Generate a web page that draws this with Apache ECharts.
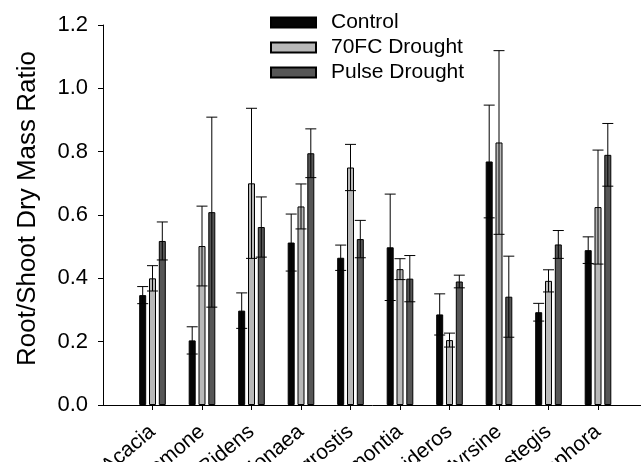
<!DOCTYPE html>
<html>
<head>
<meta charset="utf-8">
<script src="https://cdn.jsdelivr.net/npm/echarts@6/dist/echarts.min.js"></script>
<style>
html,body{margin:0;padding:0;background:#fff;}
#chart{width:641px;height:462px;}
</style>
</head>
<body>
<div id="chart"></div>
<script>
var categories = ['Acacia','Argemone','Bidens','Dodonaea','Eragrostis','Jacquemontia','Metrosideros','Myrsine','Nestegis','Sophora'];
var seriesNames = ['Control','70FC Drought','Pulse Drought'];
var controlMean = [0.347,0.204,0.298,0.513,0.465,0.498,0.286,0.769,0.293,0.489];
var controlSE   = [0.027,0.043,0.056,0.090,0.040,0.168,0.065,0.178,0.028,0.042];
var fcMean      = [0.400,0.502,0.700,0.627,0.750,0.429,0.205,0.829,0.392,0.625];
var fcSE        = [0.040,0.126,0.237,0.071,0.073,0.033,0.022,0.290,0.035,0.180];
var pulseMean   = [0.518,0.609,0.562,0.795,0.524,0.399,0.390,0.342,0.507,0.790];
var pulseSE     = [0.060,0.300,0.095,0.077,0.059,0.073,0.020,0.128,0.044,0.099];
var yTicks = [0,0.2,0.4,0.6,0.8,1.0,1.2];

var means = [controlMean, fcMean, pulseMean];
var ses = [controlSE, fcSE, pulseSE];
var fills = ['#050505','#b8b8b8','#565656'];
var offsets = [-9.8, 0, 9.8];
var font = '"Liberation Sans", Arial, sans-serif';

var axisData = [''].concat(categories).concat(['']);

var series = [];
for (var s = 0; s < 3; s++) {
  series.push({
    name: seriesNames[s],
    type: 'bar',
    barWidth: 7,
    barGap: '40%',
    itemStyle: {color: fills[s], borderColor: '#000', borderWidth: 1},
    data: means[s].map(function(v, i){ return [i + 1, v]; }),
    z: 2
  });
}
for (var s2 = 0; s2 < 3; s2++) {
  (function(k){
    series.push({
      type: 'custom',
      name: seriesNames[k] + ' SE',
      z: 5,
      silent: true,
      renderItem: function(params, api) {
        var x = api.value(0), m = api.value(1), e = api.value(2);
        var top = api.coord([x, m + e]);
        var bot = api.coord([x, m - e]);
        var cx = top[0] + offsets[k];
        var st = {stroke: '#000', lineWidth: 1};
        return {type: 'group', children: [
          {type: 'line', shape: {x1: cx, y1: top[1], x2: cx, y2: bot[1]}, style: st},
          {type: 'line', shape: {x1: cx - 5.5, y1: top[1], x2: cx + 5.5, y2: top[1]}, style: st},
          {type: 'line', shape: {x1: cx - 5.5, y1: bot[1], x2: cx + 5.5, y2: bot[1]}, style: st}
        ]};
      },
      data: means[k].map(function(v, i){ return [i + 1, v, ses[k][i]]; })
    });
  })(s2);
}

var chart = echarts.init(document.getElementById('chart'), null, {renderer: 'canvas'});
chart.setOption({
  animation: false,
  backgroundColor: '#fff',
  textStyle: {fontFamily: font},
  legend: {
    data: seriesNames,
    orient: 'vertical',
    left: 270,
    top: 12,
    padding: 0,
    itemWidth: 45,
    itemHeight: 10,
    itemGap: 4,
    icon: 'rect',
    selectedMode: false,
    textStyle: {fontSize: 21, fontFamily: font, color: '#000', lineHeight: 21, padding: [0,0,0,10]}
  },
  grid: {left: 103, top: 25, bottom: 57, right: -6.5, containLabel: false, outerBoundsMode: 'none'},
  xAxis: {
    type: 'category',
    data: axisData,
    boundaryGap: false,
    axisLine: {lineStyle: {color: '#000', width: 1}},
    axisTick: {show: true, length: 5, lineStyle: {color: '#000'}, interval: function(i){ return i > 0 && i < axisData.length - 1; }},
    axisLabel: {rotate: 40, interval: 0, margin: 24, fontSize: 21, color: '#000', fontFamily: font},
    splitLine: {show: false}
  },
  yAxis: {
    type: 'value',
    min: 0,
    max: 1.2,
    interval: 0.2,
    name: 'Root/Shoot Dry Mass Ratio',
    nameLocation: 'middle',
    nameGap: 62,
    nameTextStyle: {fontSize: 26, color: '#000', fontFamily: font, padding: [0,0,0,13]},
    axisLine: {show: true, lineStyle: {color: '#000', width: 1}},
    axisTick: {show: true, inside: false, length: 5, lineStyle: {color: '#000'}},
    axisLabel: {margin: 15, fontSize: 22, color: '#000', fontFamily: font, formatter: function(v){ return yTicks.indexOf(+v.toFixed(1)) >= 0 ? v.toFixed(1) : ''; }},
    splitLine: {show: false}
  },
  series: series
});
</script>
</body>
</html>
